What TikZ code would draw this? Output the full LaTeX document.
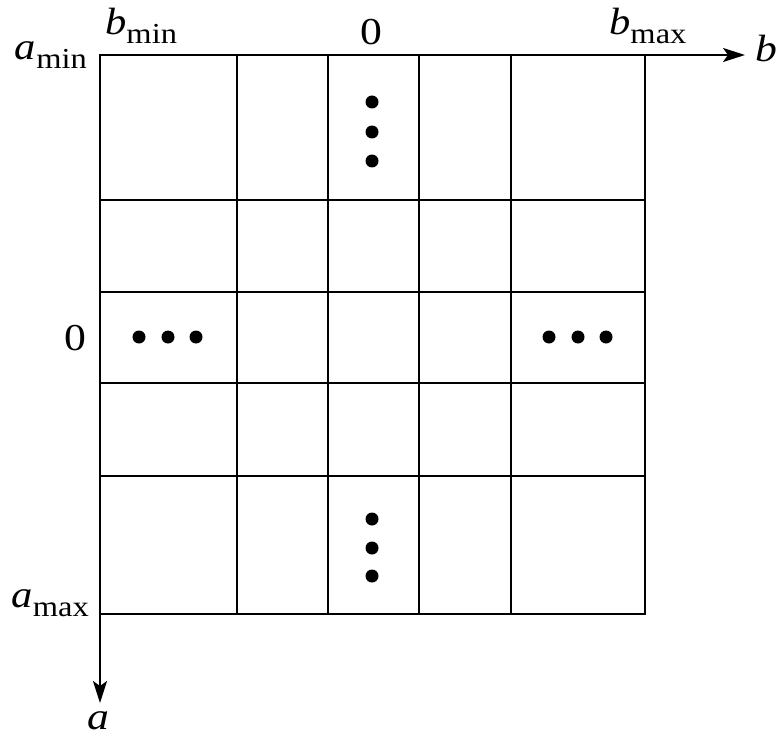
\documentclass[tikz,border=0pt]{standalone}
\usepackage{fontspec}
\usepackage{graphicx}
\setmainfont{Liberation Serif}
\usetikzlibrary{arrows.meta}
\newcommand\sublab[2]{\scalebox{1.12}[1]{\textit{#1}\raisebox{-9pt}{\fontsize{29}{30}\selectfont #2}}}
\begin{document}
\begin{tikzpicture}[x=1pt,y=-1pt,
  grid/.style={line width=2pt},
  axis/.style={line width=2pt,-{Stealth[length=22pt,width=14pt,inset=5pt]}},
  lbl/.style={inner sep=0pt,font=\fontsize{38}{40}\selectfont},
  dot/.style={circle,fill=black,inner sep=0pt,minimum size=13pt}]
\useasboundingbox (0,0) rectangle (781,738);
% grid coordinates
\coordinate (tl) at (100,55);
\coordinate (br) at (645,614);
\coordinate (bend) at (745,55);
\coordinate (aend) at (100,703);
\draw[grid] (tl) rectangle (br);
\foreach \x in {237,328,419,511} \draw[grid] (\x,55) -- (\x,614);
\foreach \y in {200,292,383,476} \draw[grid] (100,\y) -- (645,\y);
\draw[axis] (br |- tl) -- (bend);
\draw[axis] (tl |- br) -- (aend);
% labels
\node[lbl,anchor=base east] (amin) at (87,60) {\sublab{a}{min}};
\node[lbl,anchor=base west] (bmin) at (105,35) {\sublab{b}{min}};
\node[lbl,anchor=base] (zt) at (371,45) {\scalebox{1.15}[1]{0}};
\node[lbl,anchor=base west] (bmax) at (609,35) {\sublab{b}{max}};
\node[lbl,anchor=base west] (blab) at (755,62) {\scalebox{1.15}[1]{\textit{b}}};
\node[lbl,anchor=base east] (zl) at (87,350) {\scalebox{1.15}[1]{0}};
\node[lbl,anchor=base east] (amax) at (89,607) {\sublab{a}{max}};
\node[lbl,anchor=base] (alab) at (98,729) {\scalebox{1.15}[1]{\textit{a}}};
% dots
\foreach \y [count=\i] in {102,132,161} \node[dot] (dt\i) at (372,\y) {};
\foreach \y [count=\i] in {519,548,576} \node[dot] (db\i) at (372,\y) {};
\foreach \x [count=\i] in {139,168,196} \node[dot] (dl\i) at (\x,337) {};
\foreach \x [count=\i] in {549,578,606} \node[dot] (dr\i) at (\x,337) {};
\end{tikzpicture}
\end{document}
